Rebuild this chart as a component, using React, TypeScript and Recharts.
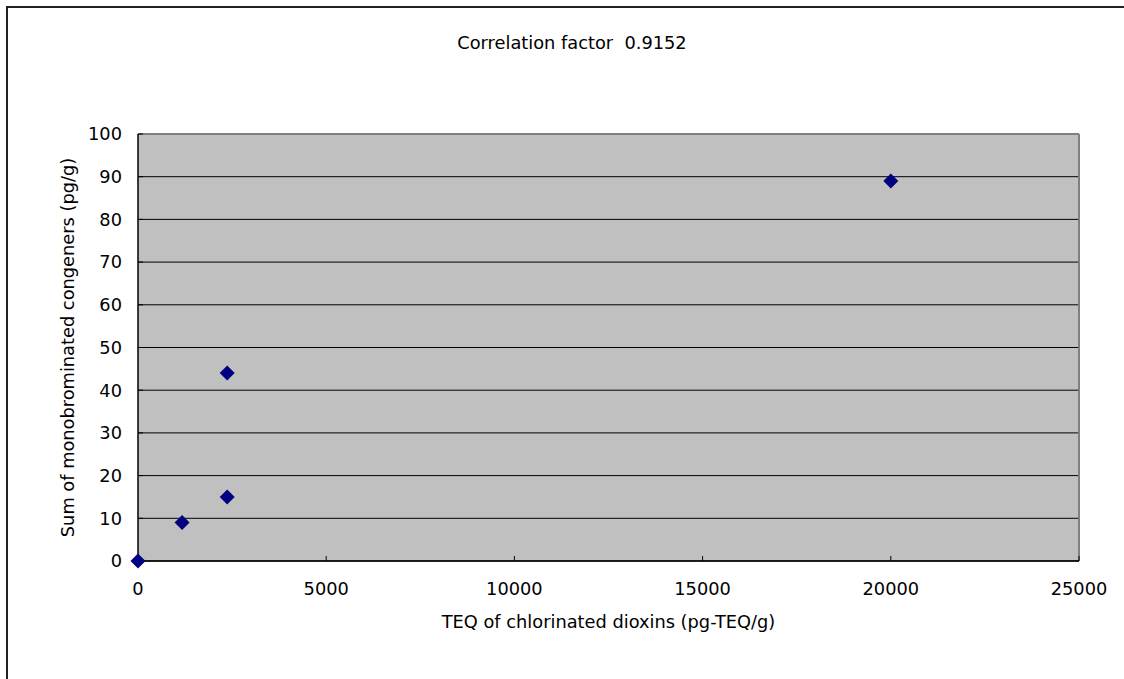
import { ScatterChart, Scatter, XAxis, YAxis, CartesianGrid, ReferenceLine, Label } from "recharts"

const teqValues = [0, 1170, 2370, 2370, 20000]
const monoSums = [0, 9, 15, 44, 89]
const xTicks = [0, 5000, 10000, 15000, 20000, 25000]
const yTicks = [0, 10, 20, 30, 40, 50, 60, 70, 80, 90, 100]

const points = teqValues.map((x, i) => ({ x, y: monoSums[i] }))

const font = "'DejaVu Sans', Arial, sans-serif"

const Diamond = (props: any) => {
  const { cx, cy } = props
  const r = 7.5
  return (
    <polygon
      points={`${cx},${cy - r} ${cx + r},${cy} ${cx},${cy + r} ${cx - r},${cy}`}
      fill="#000080"
    />
  )
}

export default function App() {
  return (
    <div
      style={{
        position: "absolute",
        left: 6,
        top: 6,
        width: 1118,
        height: 673,
        borderLeft: "2px solid #222",
        borderTop: "2px solid #222",
        background: "#fff",
        fontFamily: font,
      }}
    >
      <ScatterChart width={1116} height={671} margin={{ top: 126, right: 45, bottom: 88, left: 70 }}>
        <text x={564} y={41} textAnchor="middle" fontSize={17.8} fill="#000" fontFamily={font} style={{ whiteSpace: "pre" }}>
          Correlation factor  0.9152
        </text>
        <CartesianGrid vertical={false} stroke="#000" fill="#C0C0C0" fillOpacity={1} />
        <XAxis
          type="number"
          dataKey="x"
          domain={[0, 25000]}
          ticks={xTicks}
          interval={0}
          height={30}
          axisLine={{ stroke: "#000", strokeWidth: 1.5 }}
          tickLine={{ stroke: "#000" }}
          tickSize={-5}
          tickMargin={26}
          tick={{ fill: "#000", fontSize: 17.8, fontFamily: font }}
        >
          <Label
            value="TEQ of chlorinated dioxins (pg-TEQ/g)"
            position="bottom"
            offset={24}
            style={{ fill: "#000", fontSize: 17.8, fontFamily: font }}
          />
        </XAxis>
        <YAxis
          type="number"
          dataKey="y"
          domain={[0, 100]}
          ticks={yTicks}
          interval={0}
          width={60}
          axisLine={{ stroke: "#000", strokeWidth: 1.5 }}
          tickLine={{ stroke: "#000" }}
          tickSize={-5}
          tickMargin={21}
          tick={{ fill: "#000", fontSize: 17.8, fontFamily: font }}
        >
          <Label
            value="Sum of monobrominated congeners (pg/g)"
            angle={-90}
            position="left"
            offset={10}
            style={{ textAnchor: "middle", fill: "#000", fontSize: 17.8, fontFamily: font }}
          />
        </YAxis>
        <ReferenceLine y={100} stroke="#808080" strokeWidth={2} />
        <ReferenceLine x={25000} stroke="#808080" strokeWidth={2} />
        <Scatter data={points} shape={<Diamond />} isAnimationActive={false} />
      </ScatterChart>
    </div>
  )
}
